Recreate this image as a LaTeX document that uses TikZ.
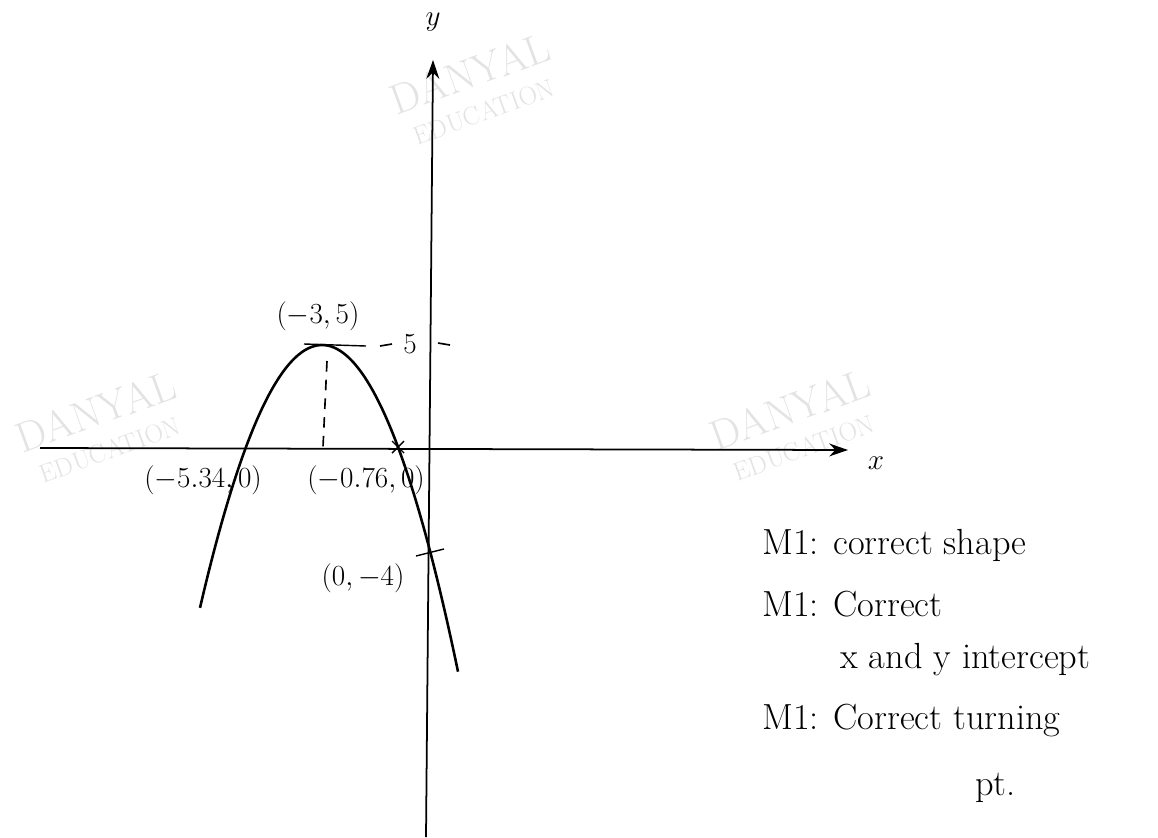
\documentclass[tikz,border=0pt]{standalone}
\usepackage{xcolor}
\usepackage{tikz}
\usetikzlibrary{arrows.meta,positioning,calc}

\tikzset{
  axisline/.style={line width=1.5pt, -{Stealth[length=16pt,width=11pt]}},
  curveline/.style={line width=2.2pt},
  handlabel/.style={font=\fontsize{27}{30}\selectfont, inner sep=1pt},
  notetext/.style={font=\fontsize{31}{36}\selectfont, anchor=west, inner sep=0pt},
  wmark/.style={text=gray!22, font=\fontsize{36}{34}\selectfont, rotate=20, align=center, inner sep=0pt}
}
\newcommand{\wmtext}{DANYAL\\[-4pt]{\fontsize{22}{24}\selectfont EDUCATION}}

\begin{document}
\begin{tikzpicture}[x=0.03cm, y=-0.03cm]
    \useasboundingbox (0,0) rectangle (1158,837);

    % watermarks
    \node[wmark] (wmA) at (476,90) {\wmtext};
    \node[wmark] (wmB) at (102,428) {\wmtext};
    \node[wmark] (wmC) at (796,426) {\wmtext};

    % axes
    \coordinate (xstart) at (40,448);
    \coordinate (xend) at (848,450);
    \coordinate (ystart) at (426,837);
    \coordinate (yend) at (433,60);
    \draw[axisline] (xstart) -- (xend);
    \draw[axisline] (ystart) -- (yend);
    \node[font=\fontsize{36}{38}\selectfont] (xlab) at (876,463) {$x$};
    \node[font=\fontsize{36}{38}\selectfont] (ylab) at (433,22) {$y$};

    % the curve
    \draw[curveline] plot[domain=200:458, samples=80, smooth]
      (\x, {345+1.766*((\x-322)/10)^2});

    % turning point
    \coordinate (top) at (322,345);
    \coordinate (topfoot) at (323,447);
    \draw[line width=1.2pt] (304,344) -- (366,346);
    \draw[line width=1.4pt, dash pattern=on 9pt off 7pt] ($(top)+(5,16)$) -- (topfoot);
    \node[handlabel] (vertex) at (318,316) {$(-3,5)$};

    % the 5 mark
    \node[handlabel, font=\fontsize{32}{34}\selectfont] (five) at (410,344) {$5$};
    \draw[line width=1.4pt] (380,346) -- (392,344);
    \draw[line width=1.4pt] (438,343) -- (450,345);

    % intercepts
    \draw[line width=1.2pt] (392,441) -- (404,453) (392,453) -- (404,441);
    \draw[line width=1.2pt] (416,556) -- (444,549);
    \node[handlabel] (leftroot) at (203,480) {$(-5.34,0)$};
    \node[handlabel] (rightroot) at (366,480) {$(-0.76,0)$};
    \node[handlabel] (yint) at (363,578) {$(0,-4)$};

    % marking notes
    \node[notetext] (markA) at (762,545) {M1: correct shape};
    \node[notetext] (markB) at (762,604) {M1: Correct};
    \node[notetext] (markBb) at (840,660) {x and y intercept};
    \node[notetext] (markC) at (762,720) {M1: Correct turning};
    \node[notetext] (markCc) at (975,788) {pt.};
\end{tikzpicture}
\end{document}
